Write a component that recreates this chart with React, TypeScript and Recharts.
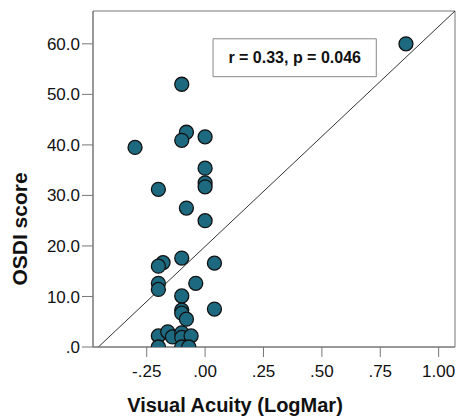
import { ScatterChart, Scatter, XAxis, YAxis, ReferenceLine, ReferenceArea, Label } from 'recharts';

// Visual acuity (LogMar) per patient
const ACUITY = [
  0.86, -0.1, -0.08, -0.1, 0.0, -0.3, 0.0, 0.0, 0.0, -0.2, -0.08, 0.0,
  -0.18, -0.2, -0.1, 0.04, -0.2, -0.2, -0.04, -0.1, -0.1, -0.1, -0.08, 0.04,
  -0.2, -0.16, -0.14, -0.1, -0.1, -0.06, -0.2, -0.1, -0.07,
];
// OSDI score per patient
const OSDI = [
  60.0, 52.0, 42.5, 40.9, 41.6, 39.5, 35.4, 32.5, 31.7, 31.2, 27.5, 25.0,
  16.7, 16.0, 17.6, 16.6, 12.6, 11.4, 12.6, 10.1, 7.3, 6.7, 5.5, 7.5,
  2.2, 3.0, 2.0, 2.8, 1.9, 2.2, 0.0, 0.0, 0.0,
];
const X_TICKS = [-0.25, 0, 0.25, 0.5, 0.75, 1.0];
const X_LABELS = ['-.25', '.00', '.25', '.50', '.75', '1.00'];
const Y_TICKS = [0, 10, 20, 30, 40, 50, 60];
const Y_LABELS = ['.0', '10.0', '20.0', '30.0', '40.0', '50.0', '60.0'];

// fit line end points
const FIT = [
  { x: -0.457, y: 0 },
  { x: 1.07, y: 66.5 },
];

const points = ACUITY.map((x, i) => ({ x, y: OSDI[i] }));

const Dot = (props: any) => (
  <circle cx={props.cx} cy={props.cy} r={7} fill="#1d6a80" stroke="#111" strokeWidth={1.3} />
);

const FONT = 'Liberation Sans, Arial, sans-serif';

export default function App() {
  return (
    <div style={{ position: 'absolute', left: 0, top: 0, fontFamily: FONT }}>
      <ScatterChart width={460} height={417} margin={{ top: 11, right: 5, left: 0, bottom: 0 }}>
        <XAxis
          type="number"
          dataKey="x"
          domain={[-0.48, 1.07]}
          allowDataOverflow
          ticks={X_TICKS}
          tickFormatter={(v: number) => X_LABELS[X_TICKS.indexOf(v)]}
          height={70}
          stroke="#777"
          tickSize={10}
          tickMargin={8}
          tick={{ fill: '#111', fontSize: 17, fontFamily: FONT }}
        >
          <Label
            value="Visual Acuity (LogMar)"
            position="insideBottom"
            offset={5}
            dx={-39}
            style={{ fill: '#111', fontSize: 20, fontWeight: 'bold', fontFamily: FONT }}
          />
        </XAxis>
        <YAxis
          type="number"
          dataKey="y"
          domain={[0, 66.5]}
          allowDataOverflow
          ticks={Y_TICKS}
          tickFormatter={(v: number) => Y_LABELS[Y_TICKS.indexOf(v)]}
          width={93}
          stroke="#777"
          tickSize={11}
          tickMargin={2}
          tick={{ fill: '#111', fontSize: 17, fontFamily: FONT }}
        >
          <Label
            value="OSDI score"
            angle={-90}
            position="insideLeft"
            offset={20}
            dy={50}
            style={{ fill: '#111', fontSize: 21, fontWeight: 'bold', fontFamily: FONT, textAnchor: 'middle' }}
          />
        </YAxis>
        <ReferenceArea x1={-0.48} x2={1.07} y1={0} y2={66.5} fill="none" stroke="#777" strokeWidth={1} />
        <ReferenceLine segment={FIT} stroke="#333" strokeWidth={1} />
        <ReferenceArea
          x1={0.034}
          x2={0.733}
          y1={53.5}
          y2={61}
          fill="#fff"
          fillOpacity={1}
          stroke="#888"
          strokeWidth={1}
          label={{ value: 'r = 0.33, p = 0.046', position: 'center', fill: '#111', fontSize: 16, fontWeight: 'bold', fontFamily: FONT }}
        />
        <Scatter data={points} shape={Dot} isAnimationActive={false} />
      </ScatterChart>
    </div>
  );
}
